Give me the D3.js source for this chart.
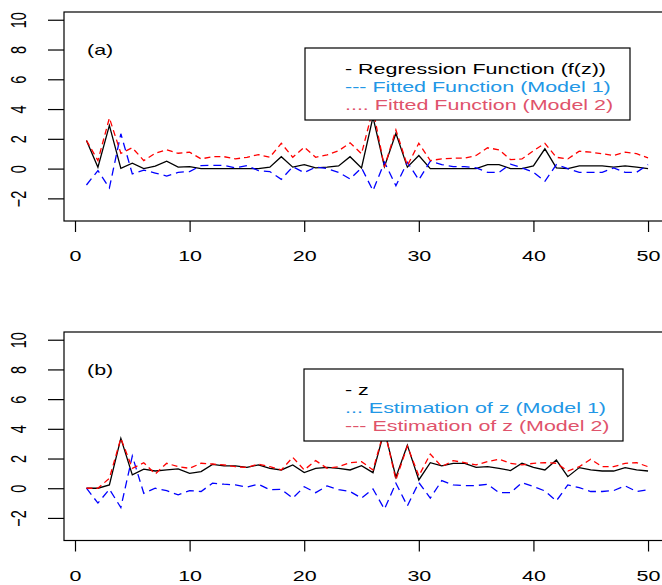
<!DOCTYPE html>
<html>
<head>
<meta charset="utf-8">
<script src="https://cdn.jsdelivr.net/npm/d3@7"></script>
<style>
  body { margin: 0; background: #fff; }
  svg { display: block; }
  text { font-family: "Liberation Sans", Arial, sans-serif; }
</style>
</head>
<body>
<div id="chart"></div>
<script>
var width = 662,
    height = 585;

// index along the x axis
var idx = d3.range(1, 51);

var xTicks = [0, 10, 20, 30, 40, 50];
var yTicks = [-2, 0, 2, 4, 6, 8, 10];

// panel (a)
var regFun = [1.89, 0.09, 2.9, 0.02, 0.36, 0, 0.16, 0.5, 0.1, 0.13,
    0, 0, 0, 0, 0, 0, 0.1, 0.8, 0.1, 0.27,
    0.05, 0.1, 0.18, 0.8, 0.05, 3.46, 0.13, 2.38, 0.1, 0.88,
    0, 0, 0, 0, 0, 0.27, 0.27, 0, 0, 0.18,
    1.33, 0.05, 0, 0.18, 0.18, 0.18, 0.1, 0.18, 0.1, 0];
var fitModel1 = [-1.1, -0.13, -1.3, 2.34, -0.36, -0.1, -0.3, -0.5, -0.25, -0.2,
    0.2, 0.22, 0.22, 0.05, 0.2, -0.13, -0.2, -0.72, 0.13, -0.27,
    0.1, 0, -0.25, -0.7, 0.05, -1.48, 0.43, -1.15, 0.43, -0.76,
    0.5, 0.27, 0.13, 0.13, 0.05, -0.25, -0.25, 0.3, 0.05, -0.25,
    -0.85, 0.27, 0, -0.25, -0.25, -0.25, 0.05, -0.25, -0.25, 0.27];
var fitModel2 = [1.89, 0.54, 3.4, 1.03, 1.4, 0.54, 1.03, 1.26, 1.03, 1.1,
    0.65, 0.8, 0.8, 0.65, 0.76, 0.94, 0.76, 1.7, 0.76, 1.44,
    0.76, 0.92, 1.2, 1.73, 1.0, 4.0, 0.1, 2.6, 0.2, 1.7,
    0.54, 0.65, 0.7, 0.7, 0.88, 1.4, 1.26, 0.6, 0.65, 1.2,
    1.7, 0.76, 0.65, 1.17, 1.1, 1.0, 0.88, 1.1, 1.0, 0.72];

// panel (b)
var zVal = [0, 0, 0.22, 3.36, 0.9, 1.28, 1.16, 1.23, 1.3, 1.0,
    1.12, 1.6, 1.5, 1.5, 1.4, 1.57, 1.34, 1.23, 1.57, 1.05,
    1.34, 1.4, 1.34, 1.23, 1.52, 1.05, 3.9, 0.74, 2.9, 0.56,
    1.72, 1.5, 1.68, 1.68, 1.4, 1.45, 1.34, 1.19, 1.68, 1.4,
    1.23, 1.9, 0.78, 1.39, 1.23, 1.16, 1.16, 1.39, 1.23, 1.16];
var estModel1 = [0, -1.0, -0.07, -1.3, 2.17, -0.34, 0, -0.16, -0.45, -0.16,
    -0.22, 0.34, 0.27, 0.22, 0.07, 0.27, -0.1, -0.07, -0.67, 0.1,
    -0.3, 0.16, -0.1, -0.22, -0.67, -0.05, -1.41, 0.34, -1.19, 0.38,
    -0.67, 0.51, 0.22, 0.18, 0.18, 0.27, -0.3, -0.3, 0.38, 0.11,
    -0.18, -0.85, 0.22, 0.04, -0.22, -0.22, -0.16, 0.16, -0.22, -0.1];
var estModel2 = [0, 0, 0.67, 3.36, 1.34, 1.72, 0.96, 1.68, 1.45, 1.34,
    1.68, 1.63, 1.57, 1.45, 1.4, 1.63, 1.45, 1.23, 2.08, 1.23,
    1.86, 1.34, 1.45, 1.72, 1.79, 1.23, 3.96, 0.56, 2.84, 0.83,
    2.3, 1.45, 1.86, 1.72, 1.57, 1.79, 1.95, 1.68, 1.57, 1.68,
    1.72, 1.68, 1.16, 1.45, 1.95, 1.45, 1.45, 1.68, 1.72, 1.45];

var legendA = ["- Regression Function (f(z))", "--- Fitted Function (Model 1)", ".... Fitted Function (Model 2)"];
var legendB = ["- z", "... Estimation of z (Model 1)", "--- Estimation of z (Model 2)"];
var legendCols = ["#000000", "#2297E6", "#DF536B"];

var fontSize = 14.5,
    stretch = 1.48;   // text in the picture is wide

var svg = d3.select("#chart")
    .append("svg")
    .attr("width", width)
    .attr("height", height);

// plot region runs past the right edge of the window
var x = d3.scaleLinear()
    .domain([-0.96, 51.96])
    .range([64, 670.5]);

drawPanel({
    top: 12, bottom: 221,
    tag: "(a)",
    series: [
        {vals: regFun, col: "#000000", dash: null},
        {vals: fitModel1, col: "#0000FF", dash: "8,5"},
        {vals: fitModel2, col: "#FF0000", dash: "6,4"}
    ],
    legend: legendA,
    box: {x0: 305, x1: 630, y0: 48, y1: 120},
    legendY: [69, 87, 105]
});

drawPanel({
    top: 332, bottom: 540.5,
    tag: "(b)",
    series: [
        {vals: zVal, col: "#000000", dash: null},
        {vals: estModel1, col: "#0000FF", dash: "8,5"},
        {vals: estModel2, col: "#FF0000", dash: "6,4"}
    ],
    legend: legendB,
    box: {x0: 304, x1: 623, y0: 369, y1: 441},
    legendY: [390, 408, 426]
});

function stretchText(sel, px, py, anchor) {
    sel.attr("transform", "translate(" + px + "," + py + ") scale(" + stretch + ",1)")
        .attr("text-anchor", anchor)
        .attr("dy", "0.35em")
        .attr("font-size", fontSize);
}

function drawPanel(p) {
    var y = d3.scaleLinear()
        .domain([-3.52, 10.52])
        .range([p.bottom, p.top]);

    var g = svg.append("g");

    var line = d3.line()
        .x(function(d, i) { return x(idx[i]); })
        .y(function(d) { return y(d); });

    g.selectAll("path.series")
        .data(p.series)
        .enter()
        .append("path")
        .attr("class", "series")
        .attr("d", function(d) { return line(d.vals); })
        .attr("fill", "none")
        .attr("stroke", function(d) { return d.col; })
        .attr("stroke-width", 1.3)
        .attr("stroke-dasharray", function(d) { return d.dash; });

    // frame
    g.append("rect")
        .attr("x", x.range()[0])
        .attr("y", p.top)
        .attr("width", x.range()[1] - x.range()[0])
        .attr("height", p.bottom - p.top)
        .attr("fill", "none")
        .attr("stroke", "#000")
        .attr("stroke-width", 1.2);

    var xAxis = g.append("g")
        .attr("transform", "translate(0," + p.bottom + ")")
        .call(d3.axisBottom(x).tickValues(xTicks).tickSize(11).tickFormat(d3.format("d")));
    xAxis.select(".domain").remove();
    xAxis.selectAll("line").attr("stroke-width", 1.2);
    xAxis.selectAll("text")
        .attr("y", null)
        .each(function() {
            stretchText(d3.select(this), 0, 35, "middle");
        });

    var yAxis = g.append("g")
        .attr("transform", "translate(" + x.range()[0] + ",0)")
        .call(d3.axisLeft(y).tickValues(yTicks).tickSize(16).tickFormat(d3.format("d")));
    yAxis.select(".domain").remove();
    yAxis.selectAll("line").attr("stroke-width", 1.2);
    yAxis.selectAll("text")
        .attr("x", null)
        .attr("transform", "translate(" + (18 - x.range()[0]) + ",0) rotate(-90) scale(1," + stretch + ")")
        .attr("text-anchor", "middle")
        .attr("dy", "0.35em")
        .attr("font-size", fontSize);
    svg.selectAll(".tick text").attr("fill", "#000");

    g.append("text")
        .text(p.tag)
        .call(stretchText, 87, (p.top + 38), "start");

    g.append("rect")
        .attr("x", p.box.x0)
        .attr("y", p.box.y0)
        .attr("width", p.box.x1 - p.box.x0)
        .attr("height", p.box.y1 - p.box.y0)
        .attr("fill", "#fff")
        .attr("stroke", "#000")
        .attr("stroke-width", 1.2);

    g.selectAll("text.leg")
        .data(p.legend)
        .enter()
        .append("text")
        .attr("class", "leg")
        .text(function(d) { return d; })
        .attr("fill", function(d, i) { return legendCols[i]; })
        .each(function(d, i) {
            stretchText(d3.select(this), 345, p.legendY[i], "start");
        });
}
</script>
</body>
</html>
